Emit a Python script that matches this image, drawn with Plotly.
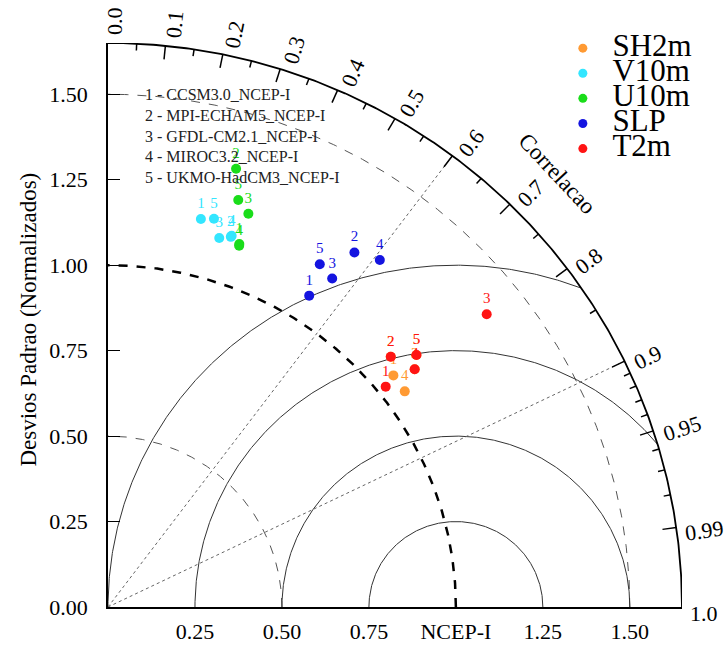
import numpy as np
import plotly.graph_objects as go

# ---------------- data ----------------
variables = ["SH2m", "V10m", "U10m", "SLP", "T2m"]
colors = ["#FF9A33", "#33E6FF", "#1ADD1A", "#1414E0", "#FF1414"]
model_ids = ["1", "2", "3", "4", "5"]
model_names = ["CCSM3.0_NCEP-I", "MPI-ECHAM5_NCEP-I", "GFDL-CM2.1_NCEP-I",
               "MIROC3.2_NCEP-I", "UKMO-HadCM3_NCEP-I"]
reference_name = "NCEP-I"

# normalized standard deviation and correlation, models 1..5
sd_SH2m = [1.064, 1.094, 1.123, 1.061, 1.153]
corr_SH2m = [0.771, 0.743, 0.785, 0.804, 0.769]
sd_V10m = [1.166, 1.139, 1.126, 1.143, 1.176]
corr_V10m = [0.229, 0.310, 0.284, 0.311, 0.259]
sd_U10m = [1.127, 1.334, 1.219, 1.122, 1.248]
corr_U10m = [0.335, 0.276, 0.331, 0.336, 0.300]
sd_SLP = [1.079, 1.256, 1.157, 1.281, 1.173]
corr_SLP = [0.536, 0.564, 0.557, 0.610, 0.519]
sd_T2m = [1.026, 1.094, 1.385, 1.123, 1.153]
corr_T2m = [0.778, 0.743, 0.786, 0.785, 0.769]

sd_all = [sd_SH2m, sd_V10m, sd_U10m, sd_SLP, sd_T2m]
corr_all = [corr_SH2m, corr_V10m, corr_U10m, corr_SLP, corr_T2m]

# diagram parameters
max_sd = 1.65
sd_ticks = [0.0, 0.25, 0.5, 0.75, 1.0, 1.25, 1.5]
sd_arcs_thin = [0.5, 1.5]
sd_arc_ref = 1.0
rms_radii = [0.25, 0.5, 0.75, 1.0]
corr_major = [0.1, 0.2, 0.3, 0.4, 0.5, 0.6, 0.7, 0.8, 0.9, 0.95, 0.99]
corr_minor = [0.05, 0.15, 0.25, 0.35, 0.45, 0.55, 0.65, 0.75, 0.85,
              0.91, 0.92, 0.93, 0.94, 0.96, 0.97, 0.98]
corr_labels = [0.0, 0.1, 0.2, 0.3, 0.4, 0.5, 0.6, 0.7, 0.8, 0.9, 0.95, 0.99, 1.0]
corr_dotted = [0.6, 0.9]

FONT = "Liberation Serif"
PX_PER_UNIT = 574 / max_sd
fig = go.Figure()


def to_paper(x, y):
    return x / max_sd, y / max_sd


# ---------------- grid ----------------
th = np.linspace(0, np.pi / 2, 300)
for r in sd_arcs_thin:
    fig.add_trace(go.Scatter(x=r * np.cos(th), y=r * np.sin(th), mode="lines",
                             line=dict(color="#555555", width=1, dash="dash"),
                             showlegend=False, hoverinfo="skip"))
fig.add_trace(go.Scatter(x=sd_arc_ref * np.cos(th), y=sd_arc_ref * np.sin(th), mode="lines",
                         line=dict(color="black", width=2.5, dash="dash"),
                         showlegend=False, hoverinfo="skip"))

tt = np.linspace(0, np.pi, 600)
for r in rms_radii:
    xs = 1.0 + r * np.cos(tt)
    ys = r * np.sin(tt)
    keep = xs ** 2 + ys ** 2 <= max_sd ** 2
    fig.add_trace(go.Scatter(x=xs[keep], y=ys[keep], mode="lines",
                             line=dict(color="#333333", width=1),
                             showlegend=False, hoverinfo="skip"))

for c in corr_dotted:
    a = np.arccos(c)
    fig.add_trace(go.Scatter(x=[0, max_sd * np.cos(a)], y=[0, max_sd * np.sin(a)], mode="lines",
                             line=dict(color="#666666", width=1, dash="dot"),
                             showlegend=False, hoverinfo="skip"))

# outer arc
fig.add_trace(go.Scatter(x=max_sd * np.cos(th), y=max_sd * np.sin(th), mode="lines",
                         line=dict(color="black", width=1.8),
                         showlegend=False, hoverinfo="skip"))

# correlation ticks
tx, ty = [], []
for cl, ln in [(corr_major, 0.04), (corr_minor, 0.02)]:
    for c in cl:
        a = np.arccos(c)
        tx += [max_sd * np.cos(a), (max_sd - ln) * np.cos(a), None]
        ty += [max_sd * np.sin(a), (max_sd - ln) * np.sin(a), None]
fig.add_trace(go.Scatter(x=tx, y=ty, mode="lines", line=dict(color="black", width=1.5),
                         showlegend=False, hoverinfo="skip"))

# correlation labels
lab_fs = 22
shift = 7 / PX_PER_UNIT
for c in corr_labels:
    a = np.arccos(c)
    txt = ("%.2f" % c).rstrip("0") if c not in (0.0, 1.0) else "%.1f" % c
    w = (0.5 * sum(ch.isdigit() for ch in txt) + 0.25 * txt.count(".")) * lab_fs / PX_PER_UNIT
    r = max_sd + 0.025 + w / 2
    x = r * np.cos(a) + shift * np.sin(a)
    y = r * np.sin(a) - shift * np.cos(a)
    xp, yp = to_paper(x, y)
    fig.add_annotation(xref="paper", yref="paper", x=xp, y=yp, text=txt, showarrow=False,
                       textangle=-np.degrees(a),
                       font=dict(family=FONT, size=lab_fs, color="black"),
                       xanchor="center", yanchor="middle")

cx, cy = to_paper(1.81 * np.cos(np.radians(44.5)), 1.81 * np.sin(np.radians(44.5)))
fig.add_annotation(xref="paper", yref="paper", x=cx, y=cy, xanchor="center", yanchor="middle",
                   text="Correlacao", showarrow=False, textangle=47,
                   font=dict(family=FONT, size=23, color="black"))

# ---------------- points ----------------
for v, col, sds, cors in zip(variables, colors, sd_all, corr_all):
    sds = np.array(sds)
    ang = np.arccos(np.array(cors))
    fig.add_trace(go.Scatter(x=sds * np.cos(ang), y=sds * np.sin(ang), mode="markers+text",
                             marker=dict(color=col, size=10), text=model_ids,
                             textposition="top center",
                             textfont=dict(family=FONT, size=15, color=col),
                             showlegend=False, hoverinfo="skip", cliponaxis=False))

# variable legend (drawn on the same axes)
leg_x_marker, leg_x_text, leg_y0, leg_dy = 1.365, 1.45, 1.635, 0.0735
ly = [leg_y0 - i * leg_dy for i in range(len(variables))]
fig.add_trace(go.Scatter(x=[leg_x_marker] * len(variables), y=ly, mode="markers",
                         marker=dict(color=colors, size=9), showlegend=False,
                         hoverinfo="skip", cliponaxis=False))
fig.add_trace(go.Scatter(x=[leg_x_text] * len(variables), y=ly, mode="text", text=variables,
                         textposition="middle right",
                         textfont=dict(family=FONT, size=31, color="black"),
                         showlegend=False, hoverinfo="skip", cliponaxis=False))

# model list
model_text = "<br>".join(f"{i} - {n}" for i, n in zip(model_ids, model_names))
fig.add_annotation(x=0.10, y=1.53, xref="x", yref="y", text=model_text, showarrow=False,
                   align="left", xanchor="left", yanchor="top",
                   font=dict(family=FONT, size=16, color="#222222"))

# y title
fig.add_annotation(xref="paper", yref="paper", x=-0.139, y=0.51, xanchor="center",
                   yanchor="middle",
                   text="Desvios Padrao (Normalizados)", showarrow=False, textangle=-90,
                   font=dict(family=FONT, size=23, color="black"))

# ---------------- layout ----------------
fig.update_layout(
    width=727, height=656,
    margin=dict(l=108, r=45, t=43, b=39),
    paper_bgcolor="white", plot_bgcolor="white",
    showlegend=False,
    xaxis=dict(range=[0, max_sd], showgrid=False, zeroline=False, showline=True,
               linecolor="black", linewidth=1.5, ticks="",
               tickvals=sd_ticks[1:],
               ticktext=[reference_name if t == 1.0 else "%.2f" % t for t in sd_ticks[1:]],
               tickfont=dict(family=FONT, size=22, color="black"), ticklabelstandoff=4),
    yaxis=dict(range=[0, max_sd], showgrid=False, zeroline=False, showline=True,
               linecolor="black", linewidth=1.5, ticks="inside", ticklen=12,
               tickcolor="black", tickwidth=1.2,
               tickvals=sd_ticks, ticktext=["%.2f" % t for t in sd_ticks],
               tickfont=dict(family=FONT, size=22, color="black"), ticklabelstandoff=14),
)

# remove the default page margin so the 727x656 figure fills the window exactly
fig.write_html("out.html",
               config={"displayModeBar": False},
               post_script="document.body.style.margin='0';"
                           "document.body.style.overflow='hidden';")
